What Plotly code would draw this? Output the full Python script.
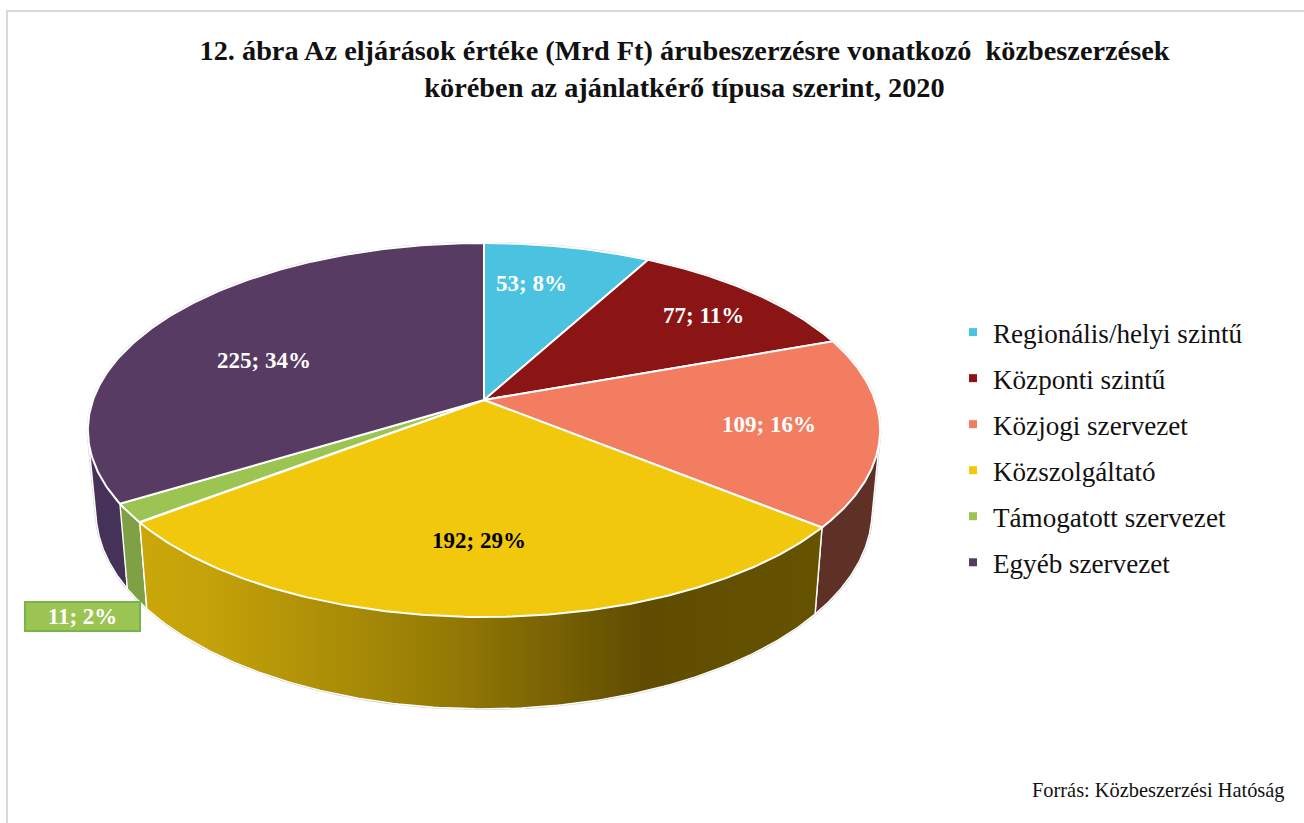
import numpy as np
import plotly.graph_objects as go

# ---- data ----
categories = ["Regionális/helyi szintű", "Központi szintű", "Közjogi szervezet",
              "Közszolgáltató", "Támogatott szervezet", "Egyéb szervezet"]
values = [53, 77, 109, 192, 11, 225]
percents = [8, 11, 16, 29, 2, 34]

# ---- styles ----
top_colors = ["#4BC3E0", "#8B1414", "#F27D60", "#F1C80B", "#9BC453", "#573B63"]
wall_colors = ["#2F7C8E", "#580D0D", "#5F3026", "#8F7A05", "#7FA044", "#463258"]
label_colors = ["white", "white", "white", "black", "white", "white"]
label_radius = [0.7, 0.7, 0.7, 0.7, 1.0, 0.7]
label_nudge = [(-13, -5), (26, -7), (10, 3), (-1, -3), (-47, 103), (6, 20)]
FONT = "Liberation Serif"

# perspective camera of the pie, in picture pixels
CX, K = 484.0, 0.1604
TOP = dict(a=391.0, b=182.2, v0=400.0)
BOTTOM = dict(a=383.0, b=193.0, v0=479.0)
VISIBLE_WALL = (80.0, 280.0)   # wall angles that can be seen from the camera


def project(theta_deg, r=1.0, plane=TOP):
    t = np.radians(theta_deg)
    X, Y = r * np.sin(t), -r * np.cos(t)
    d = 1 - K * Y
    return CX + plane["a"] * X / d, plane["v0"] + plane["b"] * Y / d


def convex_hull(xs, ys):
    pts = sorted(set(zip(np.round(xs, 3).tolist(), np.round(ys, 3).tolist())))

    def half(seq):
        out = []
        for p in seq:
            while len(out) >= 2 and ((out[-1][0] - out[-2][0]) * (p[1] - out[-2][1])
                                     - (out[-1][1] - out[-2][1]) * (p[0] - out[-2][0])) <= 0:
                out.pop()
            out.append(p)
        return out[:-1]

    ring = half(pts) + half(pts[::-1])
    ring.append(ring[0])
    return [p[0] for p in ring], [p[1] for p in ring]


def wall_outline(t0, t1):
    t = np.linspace(t0, t1, 160)
    tx, ty = project(t)
    bx, by = project(t, plane=BOTTOM)
    return convex_hull(np.r_[tx, bx], np.r_[ty, by])


total = sum(values)
edges = np.concatenate([[0], np.cumsum(values)]) / total * 360

fig = go.Figure()

# thin grey rim beneath the whole cylinder
hx, hy = wall_outline(0, 360)
fig.add_trace(go.Scatter(x=hx, y=hy, mode="lines", line=dict(color="#cfcfcf", width=2.4),
                         hoverinfo="skip", showlegend=False))

# walls: outer ones first, the front one last
for i in sorted(range(len(values)), key=lambda j: abs((edges[j] + edges[j + 1]) / 2 - 180), reverse=True):
    t0 = max(edges[i], VISIBLE_WALL[0])
    t1 = min(edges[i + 1], VISIBLE_WALL[1])
    if t1 <= t0:
        continue
    wx, wy = wall_outline(t0, t1)
    kw = dict(fillcolor=wall_colors[i])
    if categories[i] == "Közszolgáltató":
        kw = dict(fillgradient=dict(type="horizontal",
                  colorscale=[[0, "#CBA709"], [0.10, "#C4A209"], [0.45, "#957B05"],
                              [0.74, "#5F4C00"], [1, "#665300"]]))
    fig.add_trace(go.Scatter(x=wx, y=wy, mode="lines", fill="toself",
                             line=dict(color="white", width=1.4),
                             hoverinfo="skip", showlegend=False, **kw))

# top faces
for i in range(len(values)):
    t = np.linspace(edges[i], edges[i + 1], 160)
    tx, ty = project(t)
    fig.add_trace(go.Scatter(x=np.r_[CX, tx, CX], y=np.r_[TOP["v0"], ty, TOP["v0"]],
                             mode="lines", fill="toself", fillcolor=top_colors[i],
                             line=dict(color="white", width=2), name=categories[i],
                             hoverinfo="name", showlegend=False))

# legend entries
for i, c in enumerate(categories):
    fig.add_trace(go.Scatter(x=[None], y=[None], mode="markers", name=c, legendgroup=c,
                             marker=dict(symbol="square", size=8, color=top_colors[i])))

# data labels
anns = []
for i in range(len(values)):
    mid = (edges[i] + edges[i + 1]) / 2
    x, y = project(mid, label_radius[i])
    x += label_nudge[i][0]
    y += label_nudge[i][1]
    a = dict(x=x, y=y, text=f"<b>{values[i]}; {percents[i]}%</b>", showarrow=False,
             font=dict(family=FONT, size=23, color=label_colors[i]))
    if categories[i] == "Támogatott szervezet":
        a.update(bgcolor=top_colors[i], bordercolor="#76B44F", borderwidth=2,
                 width=113, height=27, borderpad=0)
    anns.append(a)

anns.append(dict(x=1287, y=790, xanchor="right", text="Forrás: Közbeszerzési Hatóság",
                 showarrow=False, font=dict(family=FONT, size=20.4, color="#111111")))

fig.update_layout(
    width=1304, height=823, margin=dict(l=0, r=0, t=0, b=0),
    paper_bgcolor="white", plot_bgcolor="white",
    xaxis=dict(range=[0, 1304], visible=False, fixedrange=True),
    yaxis=dict(range=[823, 0], visible=False, fixedrange=True),
    title=dict(text="<b>12. ábra Az eljárások értéke (Mrd Ft) árubeszerzésre vonatkozó \u00a0közbeszerzések"
                    "<br>körében az ajánlatkérő típusa szerint, 2020</b>",
               x=684.5 / 1304, xanchor="center", y=1 - 60 / 823, yanchor="middle",
               font=dict(family=FONT, size=28.3, color="#111111")),
    legend=dict(x=953 / 1304, xanchor="left", y=1 - 308 / 823, yanchor="top",
                font=dict(family=FONT, size=27.1, color="#111111"), tracegroupgap=7.8,
                bgcolor="rgba(0,0,0,0)"),
    annotations=anns,
    shapes=[dict(type="rect", xref="x", yref="y", x0=7, y0=11, x1=1312, y1=840,
                 line=dict(color="#D9D9D9", width=2), layer="below")],
)
fig.write_html("out.html", config=dict(displayModeBar=False),
               post_script="document.body.style.margin='0';")
